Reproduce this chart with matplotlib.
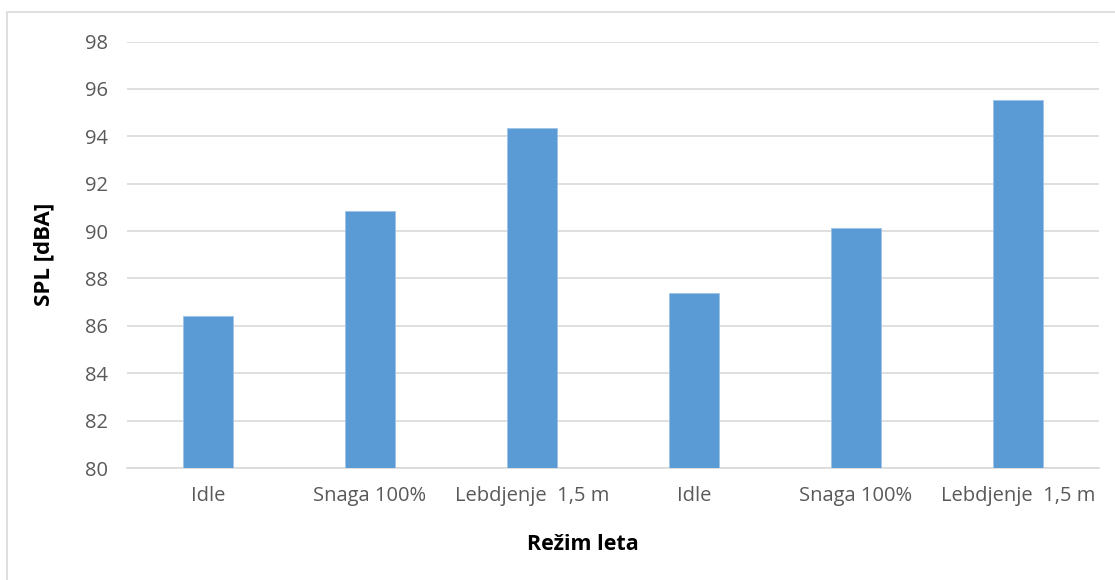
import matplotlib.pyplot as plt
from matplotlib.patches import Rectangle

categories = ["Idle", "Snaga 100%", "Lebdjenje  1,5 m",
              "Idle", "Snaga 100%", "Lebdjenje  1,5 m"]
spl_values = [86.4, 90.86, 94.33, 87.38, 90.14, 95.52]
y_ticks = [80, 82, 84, 86, 88, 90, 92, 94, 96, 98]

plt.rcParams['font.family'] = ['Open Sans', 'DejaVu Sans']

fig = plt.figure(figsize=(11.15, 5.8), dpi=100)
ax = fig.add_axes([127 / 1115, 1 - 468 / 580, (1099 - 127) / 1115, (468 - 41.5) / 580])

# outer chart border like in Excel
fig.patches.append(Rectangle((7 / 1115, -0.01), 1.0, 1 - 12 / 580 + 0.01,
                             transform=fig.transFigure, fill=False,
                             edgecolor="#d9d9d9", linewidth=1.2))

x = range(len(categories))
ax.bar(x, spl_values, width=0.31, color="#5b9bd5", edgecolor="#9dc3e6",
       linewidth=0.6, zorder=3)

ax.set_ylim(80, 98)
ax.set_xlim(-0.5, len(categories) - 0.5)
ax.set_yticks(y_ticks)
ax.set_xticks(list(x))
ax.set_xticklabels(categories)
ax.yaxis.grid(True, color="#d9d9d9", linewidth=1.2, zorder=0)
ax.set_axisbelow(True)
for s in ["top", "right", "left"]:
    ax.spines[s].set_visible(False)
ax.spines["bottom"].set_color("#d9d9d9")
ax.spines["bottom"].set_linewidth(1.2)
ax.tick_params(axis="both", length=0, labelsize=14.5, labelcolor="#595959")
ax.tick_params(axis="y", pad=14)
ax.tick_params(axis="x", pad=13)

ax.set_ylabel("SPL [dBA]", fontsize=16, fontweight="bold", labelpad=22)
ax.set_xlabel("Režim leta", fontsize=15.5, fontweight="bold", labelpad=14)
ax.xaxis.set_label_coords(0.469, -0.155)

fig.savefig("out.png", dpi=100, facecolor="white")
